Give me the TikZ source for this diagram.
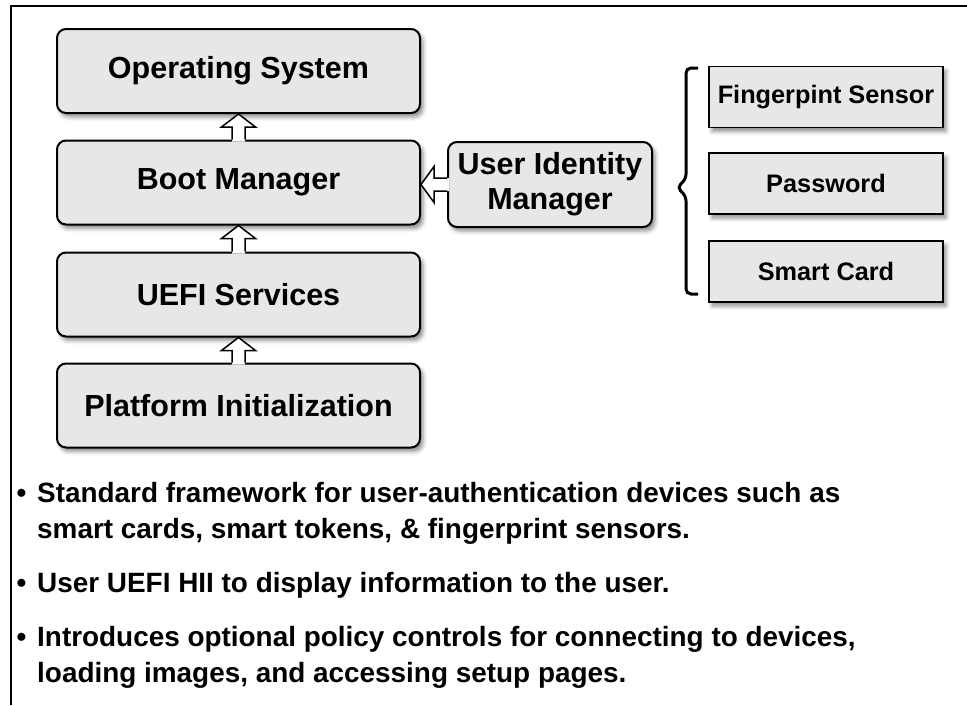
\documentclass[tikz,border=0pt]{standalone}
\usepackage{fontspec}
\setmainfont{Liberation Sans}
\usetikzlibrary{calc, shadows.blur}

\definecolor{boxgray}{RGB}{230,231,232}

\tikzset{
  softshadow/.style={blur shadow={shadow xshift=3pt, shadow yshift=-4pt, shadow blur radius=4pt, shadow opacity=45}},
  layer/.style={draw=black, line width=2pt, fill=boxgray, rounded corners=9pt, minimum width=363pt, minimum height=84pt, inner sep=0pt, font=\fontsize{30.5}{35}\selectfont\bfseries, softshadow},
  idbox/.style={layer, minimum width=204pt, minimum height=85pt, align=center},
  device/.style={draw=black, line width=1.8pt, fill=boxgray, minimum width=234pt, minimum height=61pt, inner sep=0pt, font=\fontsize{25.3}{30}\selectfont\bfseries, softshadow},
  hollow/.style={draw=black, line width=1.5pt, line join=miter},
  bullet/.style={anchor=base west, inner sep=0pt, font=\fontsize{27.9}{36}\selectfont\bfseries}
}

\begin{document}
\begin{tikzpicture}[x=1pt,y=-1pt]
\useasboundingbox (0,0) rectangle (967,705);
\draw[line width=1.3pt] (11,705) -- (11,6) -- (967,6);

% boot stack
\node[layer] (os) at (238.5,71) {Operating System};
\node[layer] (bm) at (238.5,182.5) {Boot Manager};
\node[layer] (us) at (238.5,294.5) {UEFI Services};
\node[layer] (pi) at (238.5,405.5) {Platform Initialization};

\node[idbox] (uim) at (550,184.5) {User Identity\\Manager};

% devices
\node[device] (fp) at (826,97) {Fingerpint Sensor};
\node[device] (pw) at (826,183.5) {Password};
\node[device] (sc) at (826,271.5) {Smart Card};

\draw[line width=3pt, rounded corners=5pt] (698,68) -| (686,179) -- (677,187.5) -- (686,196) |- (698,294);

% hollow arrows
\foreach \lo/\hi in {bm/os, us/bm, pi/us} {
  \fill[white] let \p1=(\lo.north), \p2=(\hi.south) in
    (\x1-6.5pt,\y1-2pt) -- (\x1-6.5pt,\y2-13pt) -- (\x1-17pt,\y2-13pt) -- (\x1,\y2)
    -- (\x1+17pt,\y2-13pt) -- (\x1+6.5pt,\y2-13pt) -- (\x1+6.5pt,\y1-2pt) -- cycle;
  \draw[hollow] let \p1=(\lo.north), \p2=(\hi.south) in
    (\x1-6.5pt,\y1) -- (\x1-6.5pt,\y2-13pt) -- (\x1-17pt,\y2-13pt) -- (\x1,\y2)
    -- (\x1+17pt,\y2-13pt) -- (\x1+6.5pt,\y2-13pt) -- (\x1+6.5pt,\y1);
}
\fill[white] let \p1=(uim.west), \p2=(bm.east) in
  (\x1+2pt,\y1+6.5pt) -- (\x2+13pt,\y1+6.5pt) -- (\x2+13pt,\y1+18pt) -- (\x2,\y1)
  -- (\x2+13pt,\y1-18pt) -- (\x2+13pt,\y1-6.5pt) -- (\x1+2pt,\y1-6.5pt) -- cycle;
\draw[hollow] let \p1=(uim.west), \p2=(bm.east) in
  (\x1,\y1+6.5pt) -- (\x2+13pt,\y1+6.5pt) -- (\x2+13pt,\y1+18pt) -- (\x2,\y1)
  -- (\x2+13pt,\y1-18pt) -- (\x2+13pt,\y1-6.5pt) -- (\x1,\y1-6.5pt);

% bullet list
\node[bullet] (b1) at (16.5,502) {•};
\node[bullet] (t1) at (37,502) {Standard framework for user-authentication devices such as};
\node[bullet] (t1b) at (37,538) {smart cards, smart tokens, \& fingerprint sensors.};
\node[bullet] (b2) at (16.5,592) {•};
\node[bullet] (t2) at (37,592) {User UEFI HII to display information to the user.};
\node[bullet] (b3) at (16.5,646) {•};
\node[bullet] (t3) at (37,646) {Introduces optional policy controls for connecting to devices,};
\node[bullet] (t3b) at (37,682) {loading images, and accessing setup pages.};
\end{tikzpicture}
\end{document}
